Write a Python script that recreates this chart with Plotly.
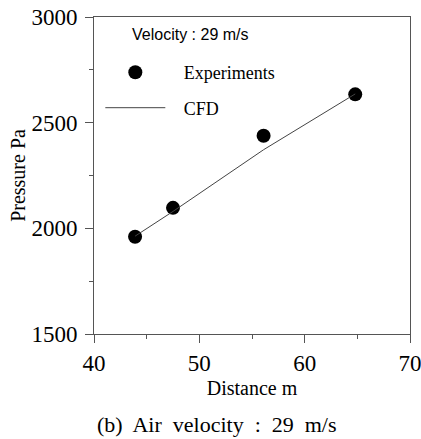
import plotly.graph_objects as go

# Data
exp_distance = [43.9, 47.5, 56.1, 64.8]
exp_pressure = [1960, 2097, 2438, 2634]
cfd_distance = [43.9, 47.5, 56.1, 64.8]
cfd_pressure = [1963, 2080, 2372, 2636]

x_ticks = [40, 50, 60, 70]
y_ticks = [1500, 2000, 2500, 3000]

SERIF = "Liberation Serif, Times New Roman, serif"
SANS = "Liberation Sans, Arial, sans-serif"
PAD = "\u00a0\u00a0\u00a0"

fig = go.Figure()
fig.add_trace(go.Scatter(
    x=exp_distance, y=exp_pressure, mode="markers", name=PAD + "Experiments",
    legendgroup="exp",
    marker=dict(color="black", size=14, line=dict(width=0)),
))
fig.add_trace(go.Scatter(
    x=cfd_distance, y=cfd_pressure, mode="lines", name=PAD + "CFD",
    legendgroup="cfd",
    line=dict(color="#444444", width=1),
))

axis_common = dict(
    showline=True, linecolor="#555555", linewidth=1, mirror=True,
    showgrid=False, zeroline=False, ticks="outside", ticklen=8,
    tickcolor="#555555", tickwidth=1, automargin=False,
    ticklabeloverflow="allow",
    tickfont=dict(family=SERIF, size=23, color="black"),
)

fig.update_xaxes(
    range=[40, 70], tickvals=x_ticks, ticktext=[str(v) for v in x_ticks],
    minor=dict(ticks="outside", ticklen=4, dtick=5, tick0=40, tickcolor="#555555"),
    title=dict(text="Distance m", font=dict(family=SERIF, size=20, color="black"), standoff=6),
    **axis_common,
)
fig.update_yaxes(
    range=[1500, 3000], tickvals=y_ticks, ticktext=[str(v) for v in y_ticks],
    minor=dict(ticks="outside", ticklen=4, dtick=250, tick0=1500, tickcolor="#555555"),
    title=dict(text="Pressure Pa", font=dict(family=SERIF, size=20, color="black"), standoff=0),
    ticklabelstandoff=3,
    **axis_common,
)

fig.update_layout(
    width=421, height=439,
    margin=dict(l=94, r=11, t=17, b=105),
    paper_bgcolor="white", plot_bgcolor="white",
    showlegend=True,
    legend=dict(
        x=0.02, y=0.883, xanchor="left", yanchor="top",
        bgcolor="rgba(0,0,0,0)", font=dict(family=SERIF, size=18, color="black"),
        itemsizing="trace", itemwidth=60, tracegroupgap=9,
        traceorder="grouped",
    ),
    annotations=[
        dict(text="Velocity : 29 m/s", x=0.113, y=0.945, xref="paper", yref="paper",
             xanchor="left", yanchor="middle", showarrow=False,
             font=dict(family=SANS, size=16, color="black")),
        dict(text="(b)\u00a0 Air\u00a0 velocity\u00a0 :\u00a0 29\u00a0 m/s", x=0.389, y=-0.285,
             xref="paper", yref="paper",
             xanchor="center", yanchor="middle", showarrow=False,
             font=dict(family=SERIF, size=22, color="black")),
    ],
)

fig.write_html("out.html")
